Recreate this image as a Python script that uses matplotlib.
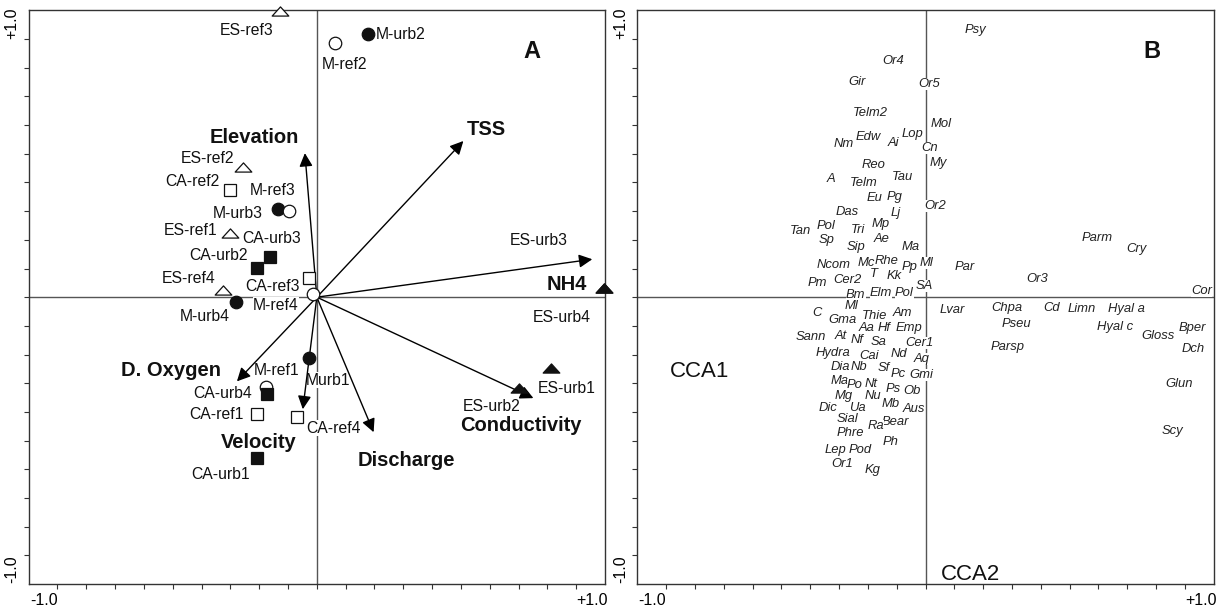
import numpy as np
import matplotlib
matplotlib.use('Agg')
import matplotlib.pyplot as plt
from matplotlib.path import Path

plt.rcParams['font.family'] = ['Liberation Sans', 'DejaVu Sans']

# ---- panel A : sites (CCA scores) ----
site_names = ['ES-ref1', 'ES-ref2', 'ES-ref3', 'ES-ref4',
              'ES-urb1', 'ES-urb2', 'ES-urb3', 'ES-urb4',
              'CA-ref1', 'CA-ref2', 'CA-ref3', 'CA-ref4',
              'CA-urb1', 'CA-urb2', 'CA-urb3', 'CA-urb4',
              'M-ref1', 'M-ref2', 'M-ref3', 'M-ref4',
              'Murb1', 'M-urb2', 'M-urb3', 'M-urb4']
site_x = [-0.335, -0.285, -0.142, -0.362,
          0.904, 0.781, 1.108, 1.108,
          -0.231, -0.335, -0.031, -0.077,
          -0.231, -0.231, -0.181, -0.192,
          -0.196, 0.069, -0.108, -0.015,
          -0.031, 0.196, -0.150, -0.312]
site_y = [0.248, 0.504, 1.108, 0.027,
          -0.275, -0.353, 0.035, 0.035,
          -0.453, 0.415, 0.074, -0.465,
          -0.624, 0.112, 0.155, -0.376,
          -0.349, 0.984, 0.333, 0.012,
          -0.236, 1.019, 0.341, -0.019]

# ---- panel A : environmental variables (arrows) ----
env_names = ['Elevation', 'TSS', 'NH4', 'Conductivity', 'Discharge', 'Velocity', 'D. Oxygen']
env_x = [-0.046, 0.565, 1.062, 0.835, 0.219, -0.054, -0.308]
env_y = [0.558, 0.605, 0.147, -0.391, -0.523, -0.434, -0.326]

# ---- panel B : species scores ----
spp_names = ['Psy', 'Or4', 'Gir', 'Or5', 'Telm2', 'Mol', 'Nm', 'Edw', 'Ai', 'Lop', 'Cn', 'Reo', 'My',
             'A', 'Telm', 'Tau', 'Eu', 'Pg', 'Or2', 'Das', 'Lj', 'Tan', 'Pol', 'Tri', 'Mp', 'Sp', 'Ae',
             'Sip', 'Ma', 'Ncom', 'Mc', 'Rhe', 'Pp', 'Ml', 'Par', 'T', 'Kk', 'Pm', 'Cer2', 'SA',
             'Bm', 'Elm', 'Pol', 'Ml', 'C', 'Gma', 'Thie', 'Am', 'Lvar', 'Sann', 'At', 'Aa', 'Hf',
             'Emp', 'Nf', 'Sa', 'Cer1', 'Hydra', 'Cai', 'Nd', 'Aq', 'Dia', 'Nb', 'Sf', 'Pc', 'Gmi',
             'Ma', 'Po', 'Nt', 'Ps', 'Ob', 'Mg', 'Nu', 'Mb', 'Dic', 'Ua', 'Aus', 'Sial', 'Bear',
             'Ra', 'Phre', 'Ph', 'Lep', 'Pod', 'Or1', 'Kg',
             'Parm', 'Cry', 'Or3', 'Cor', 'Chpa', 'Cd', 'Limn', 'Hyal a', 'Pseu', 'Hyal c',
             'Gloss', 'Bper', 'Dch', 'Parsp', 'Glun', 'Scy']
spp_x = [0.191, -0.124, -0.263, 0.015, -0.214, 0.059, -0.314, -0.221, -0.124, -0.049, 0.015, -0.199, 0.049,
         -0.366, -0.240, -0.088, -0.195, -0.118, 0.039, -0.302, -0.114, -0.481, -0.385, -0.261, -0.173, -0.381, -0.168,
         -0.268, -0.056, -0.356, -0.229, -0.150, -0.062, 0.002, 0.150, -0.201, -0.120, -0.417, -0.302, -0.006,
         -0.269, -0.172, -0.082, -0.285, -0.420, -0.319, -0.195, -0.088, 0.105, -0.442, -0.327, -0.227, -0.160,
         -0.062, -0.263, -0.182, -0.024, -0.358, -0.218, -0.101, -0.015, -0.327, -0.255, -0.160, -0.105, -0.015,
         -0.330, -0.272, -0.211, -0.124, -0.053, -0.317, -0.201, -0.134, -0.375, -0.263, -0.044, -0.302, -0.115,
         -0.191, -0.288, -0.134, -0.346, -0.253, -0.323, -0.205,
         0.660, 0.814, 0.429, 1.065, 0.313, 0.487, 0.602, 0.773, 0.349, 0.731,
         0.898, 1.029, 1.030, 0.317, 0.979, 0.951]
spp_y = [1.034, 0.915, 0.833, 0.827, 0.714, 0.669, 0.594, 0.621, 0.598, 0.634, 0.579, 0.514, 0.518,
         0.456, 0.443, 0.466, 0.385, 0.388, 0.353, 0.331, 0.327, 0.256, 0.275, 0.262, 0.284, 0.220, 0.226,
         0.194, 0.195, 0.124, 0.133, 0.142, 0.116, 0.133, 0.117, 0.090, 0.081, 0.055, 0.065, 0.043,
         0.010, 0.017, 0.017, -0.035, -0.061, -0.089, -0.071, -0.063, -0.050, -0.154, -0.151, -0.119, -0.121,
         -0.121, -0.167, -0.173, -0.177, -0.216, -0.226, -0.220, -0.239, -0.271, -0.271, -0.276, -0.297, -0.302,
         -0.326, -0.342, -0.338, -0.355, -0.364, -0.381, -0.384, -0.412, -0.429, -0.431, -0.435, -0.472, -0.484,
         -0.500, -0.526, -0.561, -0.590, -0.590, -0.645, -0.671,
         0.230, 0.185, 0.069, 0.023, -0.041, -0.041, -0.044, -0.044, -0.102, -0.116,
         -0.151, -0.119, -0.199, -0.193, -0.336, -0.519]

# label offsets in pixels (dx, dy) relative to the marker / arrow tip
site_lab_off = {'ES-ref1': (-39, 3), 'ES-ref2': (-35, 9), 'ES-ref3': (-33, -19), 'ES-ref4': (-34, 12),
                'ES-urb1': (15, -20), 'ES-urb2': (-28, -18), 'ES-urb3': (-65, 48), 'ES-urb4': (-42, -29),
                'CA-ref1': (-40, 0), 'CA-ref2': (-38, 9), 'CA-ref3': (-36, -8), 'CA-ref4': (37, -11),
                'CA-urb1': (-36, -16), 'CA-urb2': (-38, 13), 'CA-urb3': (2, 19), 'CA-urb4': (-44, 1),
                'M-ref1': (11, 17), 'M-ref2': (10, -21), 'M-ref3': (-16, 21), 'M-ref4': (-37, -11),
                'Murb1': (19, -22), 'M-urb2': (33, 0), 'M-urb3': (-40, -4), 'M-urb4': (-31, -14)}
env_lab_off = {'Elevation': (-51, 16), 'TSS': (23, 12), 'NH4': (-25, -25), 'Conductivity': (-13, -27),
               'Discharge': (33, -28), 'Velocity': (-44, -33), 'D. Oxygen': (-66, 11)}

lim = 10 / 9
ticks = np.arange(-9, 10) / 9
tick_labels = ['-1.0'] + [''] * 17 + ['+1.0']
px = 0.72  # pixel -> points at dpi 100

# flat triangle marker
tri = Path([(-1, -0.55), (1, -0.55), (0, 0.55), (-1, -0.55)],
           [Path.MOVETO, Path.LINETO, Path.LINETO, Path.CLOSEPOLY])


def frame(ax):
    ax.set_xlim(-lim, lim)
    ax.set_ylim(-lim, lim)
    ax.axhline(0, color='#555555', lw=1, zorder=1)
    ax.axvline(0, color='#555555', lw=1, zorder=1)
    for s in ax.spines.values():
        s.set_color('#333333')
        s.set_linewidth(1)
    ax.set_xticks(ticks)
    ax.set_yticks(ticks)
    ax.set_xticklabels(tick_labels, fontsize=11.5)
    ax.set_yticklabels(tick_labels, fontsize=11.5, rotation=90)
    ax.tick_params(direction='out', length=3.5, width=0.8, color='#333333', pad=3)
    xl = ax.get_xticklabels()
    xl[0].set_ha('right')
    xl[-1].set_ha('left')
    yl = ax.get_yticklabels()
    yl[0].set_va('top')
    yl[-1].set_va('bottom')


fig = plt.figure(figsize=(12.23, 6.09), dpi=100)
axA = fig.add_axes([0.0234, 0.041, 0.4713, 0.942])
axB = fig.add_axes([0.5211, 0.041, 0.4713, 0.942])

# ----- panel A -----
frame(axA)
for name, x, y in zip(site_names, site_x, site_y):
    if name.startswith('ES'):
        mk, ms, z = tri, 12, 7
    elif name.startswith('CA'):
        mk, ms, z = 's', 9, 6
    else:
        mk, ms, z = 'o', 9, 5
    filled = 'urb' in name
    if mk == 'o' and not filled:
        z = 5.5
    axA.plot(x, y, marker=mk, ms=ms, mfc='#111111' if filled else 'white',
             mec='#111111', mew=0.9, ls='none', zorder=z, clip_on=False)
    dx, dy = site_lab_off[name]
    axA.annotate(name, (x, y), xytext=(dx * px, dy * px), textcoords='offset points',
                 ha='center', va='center', fontsize=11.3, color='#111111', zorder=3,
                 bbox=dict(facecolor='white', edgecolor='none', pad=0.2))

for name, x, y in zip(env_names, env_x, env_y):
    axA.annotate('', xy=(x, y), xytext=(0, 0),
                 arrowprops=dict(arrowstyle='-|>', color='black', lw=1,
                                 mutation_scale=20, shrinkA=0, shrinkB=0), zorder=4)
    dx, dy = env_lab_off[name]
    axA.annotate(name, (x, y), xytext=(dx * px, dy * px), textcoords='offset points',
                 ha='center', va='center', fontsize=14.5, fontweight='bold', color='#111111', zorder=8)

axA.text(0.831, 0.953, 'A', fontsize=17, fontweight='bold', ha='center', va='center', color='#111111')

# ----- panel B -----
frame(axB)
for name, x, y in zip(spp_names, spp_x, spp_y):
    axB.text(x, y, name, fontsize=9.4, style='italic', ha='center', va='center', color='#222222',
             zorder=3, bbox=dict(facecolor='white', edgecolor='none', pad=0.05))

axB.text(-0.87, -0.287, 'CCA1', fontsize=16, ha='center', va='center', color='#111111')
axB.text(0.172, -1.074, 'CCA2', fontsize=16, ha='center', va='center', color='#111111')
axB.text(0.872, 0.953, 'B', fontsize=17, fontweight='bold', ha='center', va='center', color='#111111')

fig.savefig('out.png', dpi=100)
